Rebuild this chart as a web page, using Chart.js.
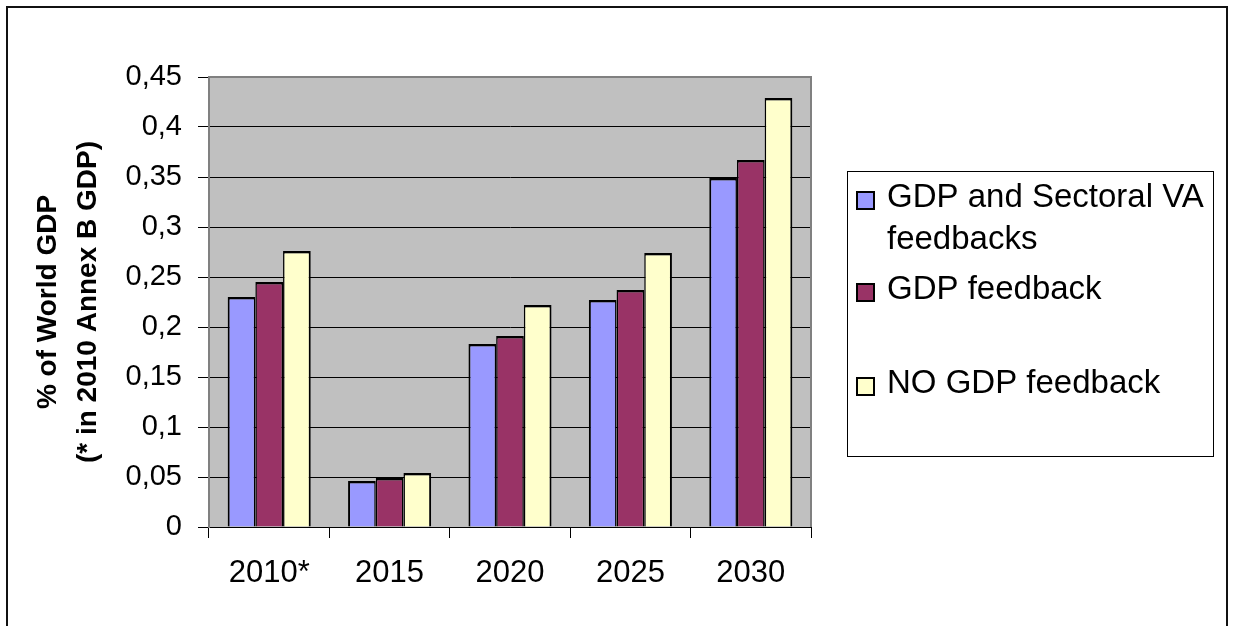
<!DOCTYPE html>
<html>
<head>
<meta charset="utf-8">
<script src="https://cdn.jsdelivr.net/npm/chart.js@4/dist/chart.umd.min.js"></script>
<style>
  html, body { margin: 0; padding: 0; background: #ffffff; }
  #wrap { width: 1234px; height: 626px; position: relative; }
  canvas { display: block; }
</style>
</head>
<body>
<div id="wrap"><canvas id="chart" width="1234" height="626"></canvas></div>
<script>
// Years on the category axis
const categories = ['2010*', '2015', '2020', '2025', '2030'];

// Cost as % of world GDP, per feedback assumption
const gdpAndSectoralVA = [0.230, 0.046, 0.183, 0.227, 0.349];
const gdpFeedback      = [0.245, 0.049, 0.191, 0.237, 0.367];
const noGdpFeedback    = [0.276, 0.054, 0.222, 0.274, 0.429];

// Series names shown in the legend
const seriesNames = ['GDP and Sectoral VA feedbacks', 'GDP feedback', 'NO GDP feedback'];

// Value-axis tick labels (decimal comma)
const yTickValues = [0, 0.05, 0.1, 0.15, 0.2, 0.25, 0.3, 0.35, 0.4, 0.45];
const yTickLabels = ['0', '0,05', '0,1', '0,15', '0,2', '0,25', '0,3', '0,35', '0,4', '0,45'];

const FONT = "'Liberation Sans', Arial, sans-serif";

// Grey plot background, outer frame, plot border and the custom legend box
const framePlugin = {
  id: 'frameAndLegend',
  beforeDraw(chart) {
    const { ctx, chartArea: a } = chart;
    ctx.save();
    ctx.fillStyle = '#ffffff';
    ctx.fillRect(0, 0, chart.width, chart.height);
    ctx.fillStyle = '#C0C0C0';
    ctx.fillRect(a.left, a.top, a.right - a.left, a.bottom - a.top);
    ctx.restore();
  },
  afterDraw(chart, args, opts) {
    const { ctx, chartArea: a } = chart;
    ctx.save();
    // outer chart frame (its bottom edge runs off the page)
    ctx.strokeStyle = '#111111';
    ctx.lineWidth = 2;
    ctx.beginPath();
    ctx.moveTo(7, chart.height + 5);
    ctx.lineTo(7, 7);
    ctx.lineTo(1227, 7);
    ctx.lineTo(1227, chart.height + 5);
    ctx.stroke();

    // plot area top and right edges
    ctx.strokeStyle = '#808080';
    ctx.lineWidth = 2;
    ctx.beginPath();
    ctx.moveTo(a.left, a.top);
    ctx.lineTo(a.right, a.top);
    ctx.lineTo(a.right, a.bottom);
    ctx.stroke();

    // legend box
    const box = opts.box;
    ctx.strokeStyle = '#000000';
    ctx.lineWidth = 1;
    ctx.strokeRect(box.x + 0.5, box.y + 0.5, box.w, box.h);

    ctx.font = opts.fontSize + 'px ' + FONT;
    ctx.textBaseline = 'alphabetic';
    ctx.textAlign = 'left';
    const maxW = box.x + box.w - opts.textX;
    chart.data.datasets.forEach((ds, i) => {
      const top = opts.itemTops[i];
      // swatch
      ctx.fillStyle = ds.backgroundColor;
      ctx.fillRect(opts.swatchX, top, opts.swatch, opts.swatch);
      ctx.strokeStyle = '#000000';
      ctx.lineWidth = 2;
      ctx.strokeRect(opts.swatchX, top, opts.swatch, opts.swatch);
      // wrapped label
      const words = ds.label.split(' ');
      const lines = [];
      let line = '';
      words.forEach(w => {
        const test = line ? line + ' ' + w : w;
        if (line && ctx.measureText(test).width > maxW) {
          lines.push(line);
          line = w;
        } else {
          line = test;
        }
      });
      if (line) lines.push(line);
      ctx.fillStyle = '#000000';
      lines.forEach((l, k) => {
        ctx.fillText(l, opts.textX, top + opts.baselineOffset + k * opts.lineGap);
      });
    });
    ctx.restore();
  }
};

const barStyle = {
  borderColor: '#000000',
  borderSkipped: 'start',
  categoryPercentage: 0.69,
  barPercentage: 1.0
};

new Chart(document.getElementById('chart'), {
  type: 'bar',
  data: {
    labels: categories,
    datasets: [
      Object.assign({ label: seriesNames[0], data: gdpAndSectoralVA, backgroundColor: '#9999FF',
        borderWidth: { top: 2.5, left: 2, right: 1.5, bottom: 0 } }, barStyle),
      Object.assign({ label: seriesNames[1], data: gdpFeedback, backgroundColor: '#993366',
        borderWidth: { top: 2.5, left: 1.5, right: 1.5, bottom: 0 } }, barStyle),
      Object.assign({ label: seriesNames[2], data: noGdpFeedback, backgroundColor: '#FFFFCC',
        borderWidth: { top: 2.5, left: 1.5, right: 2, bottom: 0 } }, barStyle)
    ]
  },
  options: {
    responsive: false,
    devicePixelRatio: 1,
    animation: false,
    layout: { padding: { top: 77, right: 423, bottom: 0, left: 0 } },
    plugins: {
      legend: { display: false },
      tooltip: { enabled: false },
      frameAndLegend: {
        box: { x: 847, y: 171, w: 366, h: 285 },
        swatchX: 857,
        swatch: 17,
        itemTops: [192, 284, 378],
        textX: 887,
        fontSize: 33,
        baselineOffset: 15,
        lineGap: 41.5
      }
    },
    scales: {
      x: {
        offset: true,
        grid: {
          display: true,
          offset: true,
          drawOnChartArea: false,
          drawTicks: true,
          tickLength: 11,
          color: '#000000',
          lineWidth: 1
        },
        border: { display: true, color: '#000000', width: 1 },
        ticks: {
          color: '#000000',
          font: { family: FONT, size: 31 },
          padding: 17,
          maxRotation: 0,
          autoSkip: false
        },
        afterFit(scale) { scale.height = 99; }
      },
      y: {
        min: 0,
        max: 0.45,
        afterBuildTicks(scale) {
          scale.ticks = yTickValues.map(v => ({ value: v }));
        },
        grid: {
          color: '#000000',
          lineWidth: 1,
          drawTicks: true,
          tickLength: 11
        },
        border: { display: true, color: '#808080', width: 2 },
        ticks: {
          color: '#000000',
          font: { family: FONT, size: 29 },
          padding: 16,
          callback(value) {
            const i = yTickValues.findIndex(v => Math.abs(v - value) < 1e-9);
            return i >= 0 ? yTickLabels[i] : '';
          }
        },
        title: {
          display: true,
          text: ['% of World GDP', '(* in 2010 Annex B GDP)'],
          color: '#000000',
          font: { family: FONT, size: 28, weight: 'bold', lineHeight: 1.4 },
          padding: { top: 29, bottom: 0 }
        },
        afterFit(scale) { scale.width = 209; }
      }
    }
  },
  plugins: [framePlugin]
});
</script>
</body>
</html>
